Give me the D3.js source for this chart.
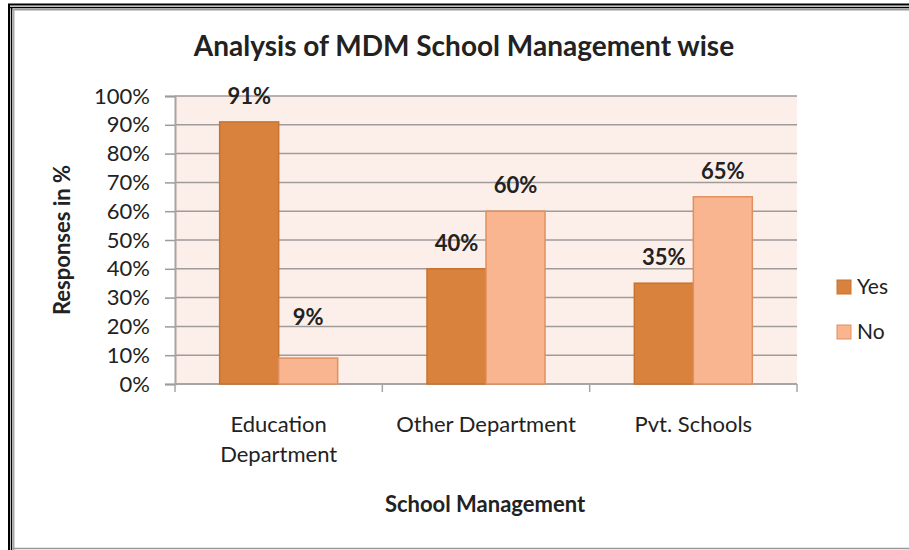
<!DOCTYPE html>
<html>
<head>
<meta charset="utf-8">
<script src="https://cdn.jsdelivr.net/npm/d3@7"></script>
<style>
  body { margin: 0; background: #fff; }
  text { font-family: Lato, "Open Sans", sans-serif; fill: #222; }
</style>
</head>
<body>
<div id="chart"></div>
<script>
// data
const categories = [['Education', 'Department'], ['Other Department'], ['Pvt. Schools']];
const seriesNames = ['Yes', 'No'];
const yesValues = [91, 40, 35];
const noValues = [9, 60, 65];
const yTicks = [0, 10, 20, 30, 40, 50, 60, 70, 80, 90, 100];

// constants
const FRAME_WIDTH = 909;
const FRAME_HEIGHT = 550;
const PLOT = {left: 175, right: 797, top: 96, bottom: 384};
const COLORS = {Yes: '#D9823E', No: '#F9B590'};
const STROKES = {Yes: '#C8722F', No: '#E09060'};

let svg = d3.select('#chart')
            .append('svg')
            .attr('width', FRAME_WIDTH)
            .attr('height', FRAME_HEIGHT);

// outer frame: double black line top/left, gray shadow
svg.append('rect').attr('x', 0).attr('y', 0).attr('width', FRAME_WIDTH).attr('height', FRAME_HEIGHT).attr('fill', '#fff');
svg.append('line').attr('x1', 8).attr('x2', FRAME_WIDTH).attr('y1', 4.5).attr('y2', 4.5).attr('stroke', '#000').attr('stroke-width', 2);
svg.append('line').attr('x1', 10).attr('x2', FRAME_WIDTH).attr('y1', 7.5).attr('y2', 7.5).attr('stroke', '#000').attr('stroke-width', 1.5);
svg.append('line').attr('x1', 12).attr('x2', FRAME_WIDTH).attr('y1', 9.5).attr('y2', 9.5).attr('stroke', '#999').attr('stroke-width', 2);
svg.append('line').attr('x1', 9).attr('x2', 9).attr('y1', 4).attr('y2', FRAME_HEIGHT).attr('stroke', '#000').attr('stroke-width', 2);
svg.append('line').attr('x1', 11.5).attr('x2', 11.5).attr('y1', 7).attr('y2', FRAME_HEIGHT).attr('stroke', '#000').attr('stroke-width', 1.5);
svg.append('line').attr('x1', 13.5).attr('x2', 13.5).attr('y1', 9).attr('y2', FRAME_HEIGHT).attr('stroke', '#aaa').attr('stroke-width', 2);
svg.append('line').attr('x1', 13).attr('x2', FRAME_WIDTH).attr('y1', 548.5).attr('y2', 548.5).attr('stroke', '#999').attr('stroke-width', 1.5);

// scales
let xScale = d3.scaleBand()
               .domain(d3.range(categories.length))
               .range([PLOT.left, PLOT.right])
               .paddingInner(0)
               .paddingOuter(0);
let xSub = d3.scaleBand()
             .domain(seriesNames)
             .range([0, xScale.bandwidth()])
             .paddingInner(0)
             .paddingOuter(0.757);
let yScale = d3.scaleLinear()
               .domain([0, 100])
               .range([PLOT.bottom, PLOT.top]);

// plot background
svg.append('rect')
   .attr('x', PLOT.left).attr('y', PLOT.top)
   .attr('width', PLOT.right - PLOT.left).attr('height', PLOT.bottom - PLOT.top)
   .attr('fill', '#FCEFE9');

// gridlines
svg.append('g')
   .selectAll('line')
   .data(yTicks.filter(d => d > 0))
   .enter()
   .append('line')
   .attr('x1', PLOT.left).attr('x2', PLOT.right)
   .attr('y1', d => yScale(d)).attr('y2', d => yScale(d))
   .attr('stroke', '#A09A98').attr('stroke-width', 1.5);

// y axis
let yAxis = svg.append('g')
   .attr('transform', 'translate(' + PLOT.left + ',0)')
   .call(d3.axisLeft(yScale).tickValues(yTicks).tickSize(10).tickPadding(15).tickFormat(d => d + '%'));
yAxis.select('.domain').attr('stroke', '#A8A4A2').attr('stroke-width', 2);
yAxis.selectAll('.tick line').attr('stroke', '#A09A98').attr('stroke-width', 1.5);
yAxis.selectAll('text').attr('font-size', '22px').attr('font-family', 'Lato, sans-serif').attr('fill', '#2a2a2a');

// x axis
let xAxisG = svg.append('g').attr('transform', 'translate(0,' + PLOT.bottom + ')');
xAxisG.append('line').attr('x1', PLOT.left).attr('x2', PLOT.right).attr('y1', 0).attr('y2', 0)
      .attr('stroke', '#A8A4A2').attr('stroke-width', 2);
xAxisG.selectAll('.xtick')
      .data(d3.range(categories.length + 1))
      .enter()
      .append('line')
      .attr('x1', d => PLOT.left + d * xScale.bandwidth())
      .attr('x2', d => PLOT.left + d * xScale.bandwidth())
      .attr('y1', 0).attr('y2', 8)
      .attr('stroke', '#A8A4A2').attr('stroke-width', 1.5);

// category labels
svg.append('g')
   .selectAll('text')
   .data(categories)
   .enter()
   .append('text')
   .attr('text-anchor', 'middle')
   .attr('font-size', '22px')
   .attr('fill', '#2a2a2a')
   .each(function (d, i) {
       d3.select(this).selectAll('tspan')
         .data(d)
         .enter()
         .append('tspan')
         .attr('x', xScale(i) + xScale.bandwidth() / 2)
         .attr('y', (t, j) => 432 + j * 30)
         .text(t => t);
   });

// bars
let groups = svg.append('g')
   .selectAll('g')
   .data(categories.map((c, i) => ({i: i, Yes: yesValues[i], No: noValues[i]})))
   .enter()
   .append('g')
   .attr('transform', d => 'translate(' + xScale(d.i) + ',0)');

groups.selectAll('rect')
      .data(d => seriesNames.map(s => ({key: s, value: d[s]})))
      .enter()
      .append('rect')
      .attr('x', d => xSub(d.key))
      .attr('y', d => yScale(d.value))
      .attr('width', xSub.bandwidth())
      .attr('height', d => PLOT.bottom - yScale(d.value))
      .attr('fill', d => COLORS[d.key])
      .attr('stroke', d => STROKES[d.key])
      .attr('stroke-width', 1.5);

// data labels
groups.selectAll('text')
      .data(d => seriesNames.map(s => ({key: s, value: d[s]})))
      .enter()
      .append('text')
      .attr('x', d => xSub(d.key) + xSub.bandwidth() / 2)
      .attr('y', d => Math.min(yScale(d.value) - 18, yScale(20) - 1))
      .attr('text-anchor', 'middle')
      .attr('font-size', '22px')
      .attr('font-weight', 'bold')
      .attr('fill', '#1a1a1a')
      .text(d => d.value + '%');

// title
svg.append('text')
   .attr('x', 464).attr('y', 56)
   .attr('text-anchor', 'middle')
   .attr('font-size', '28px')
   .attr('font-weight', 'bold')
   .attr('fill', '#1a1a1a')
   .text('Analysis of MDM School Management wise');

// axis titles
svg.append('text')
   .attr('transform', 'translate(70,240) rotate(-90)')
   .attr('text-anchor', 'middle')
   .attr('font-size', '22px')
   .attr('font-weight', 'bold')
   .attr('fill', '#1a1a1a')
   .text('Responses in %');

svg.append('text')
   .attr('x', 485).attr('y', 512)
   .attr('text-anchor', 'middle')
   .attr('font-size', '22px')
   .attr('font-weight', 'bold')
   .attr('fill', '#1a1a1a')
   .text('School Management');

// legend
let legend = svg.append('g')
   .selectAll('g')
   .data(seriesNames)
   .enter()
   .append('g')
   .attr('transform', (d, i) => 'translate(837,' + (280 + i * 45) + ')');
legend.append('rect')
      .attr('width', 14).attr('height', 14)
      .attr('fill', d => COLORS[d])
      .attr('stroke', d => STROKES[d]).attr('stroke-width', 1);
legend.append('text')
      .attr('x', 20).attr('y', 14)
      .attr('font-size', '21px')
      .attr('fill', '#2a2a2a')
      .text(d => d);
</script>
</body>
</html>
